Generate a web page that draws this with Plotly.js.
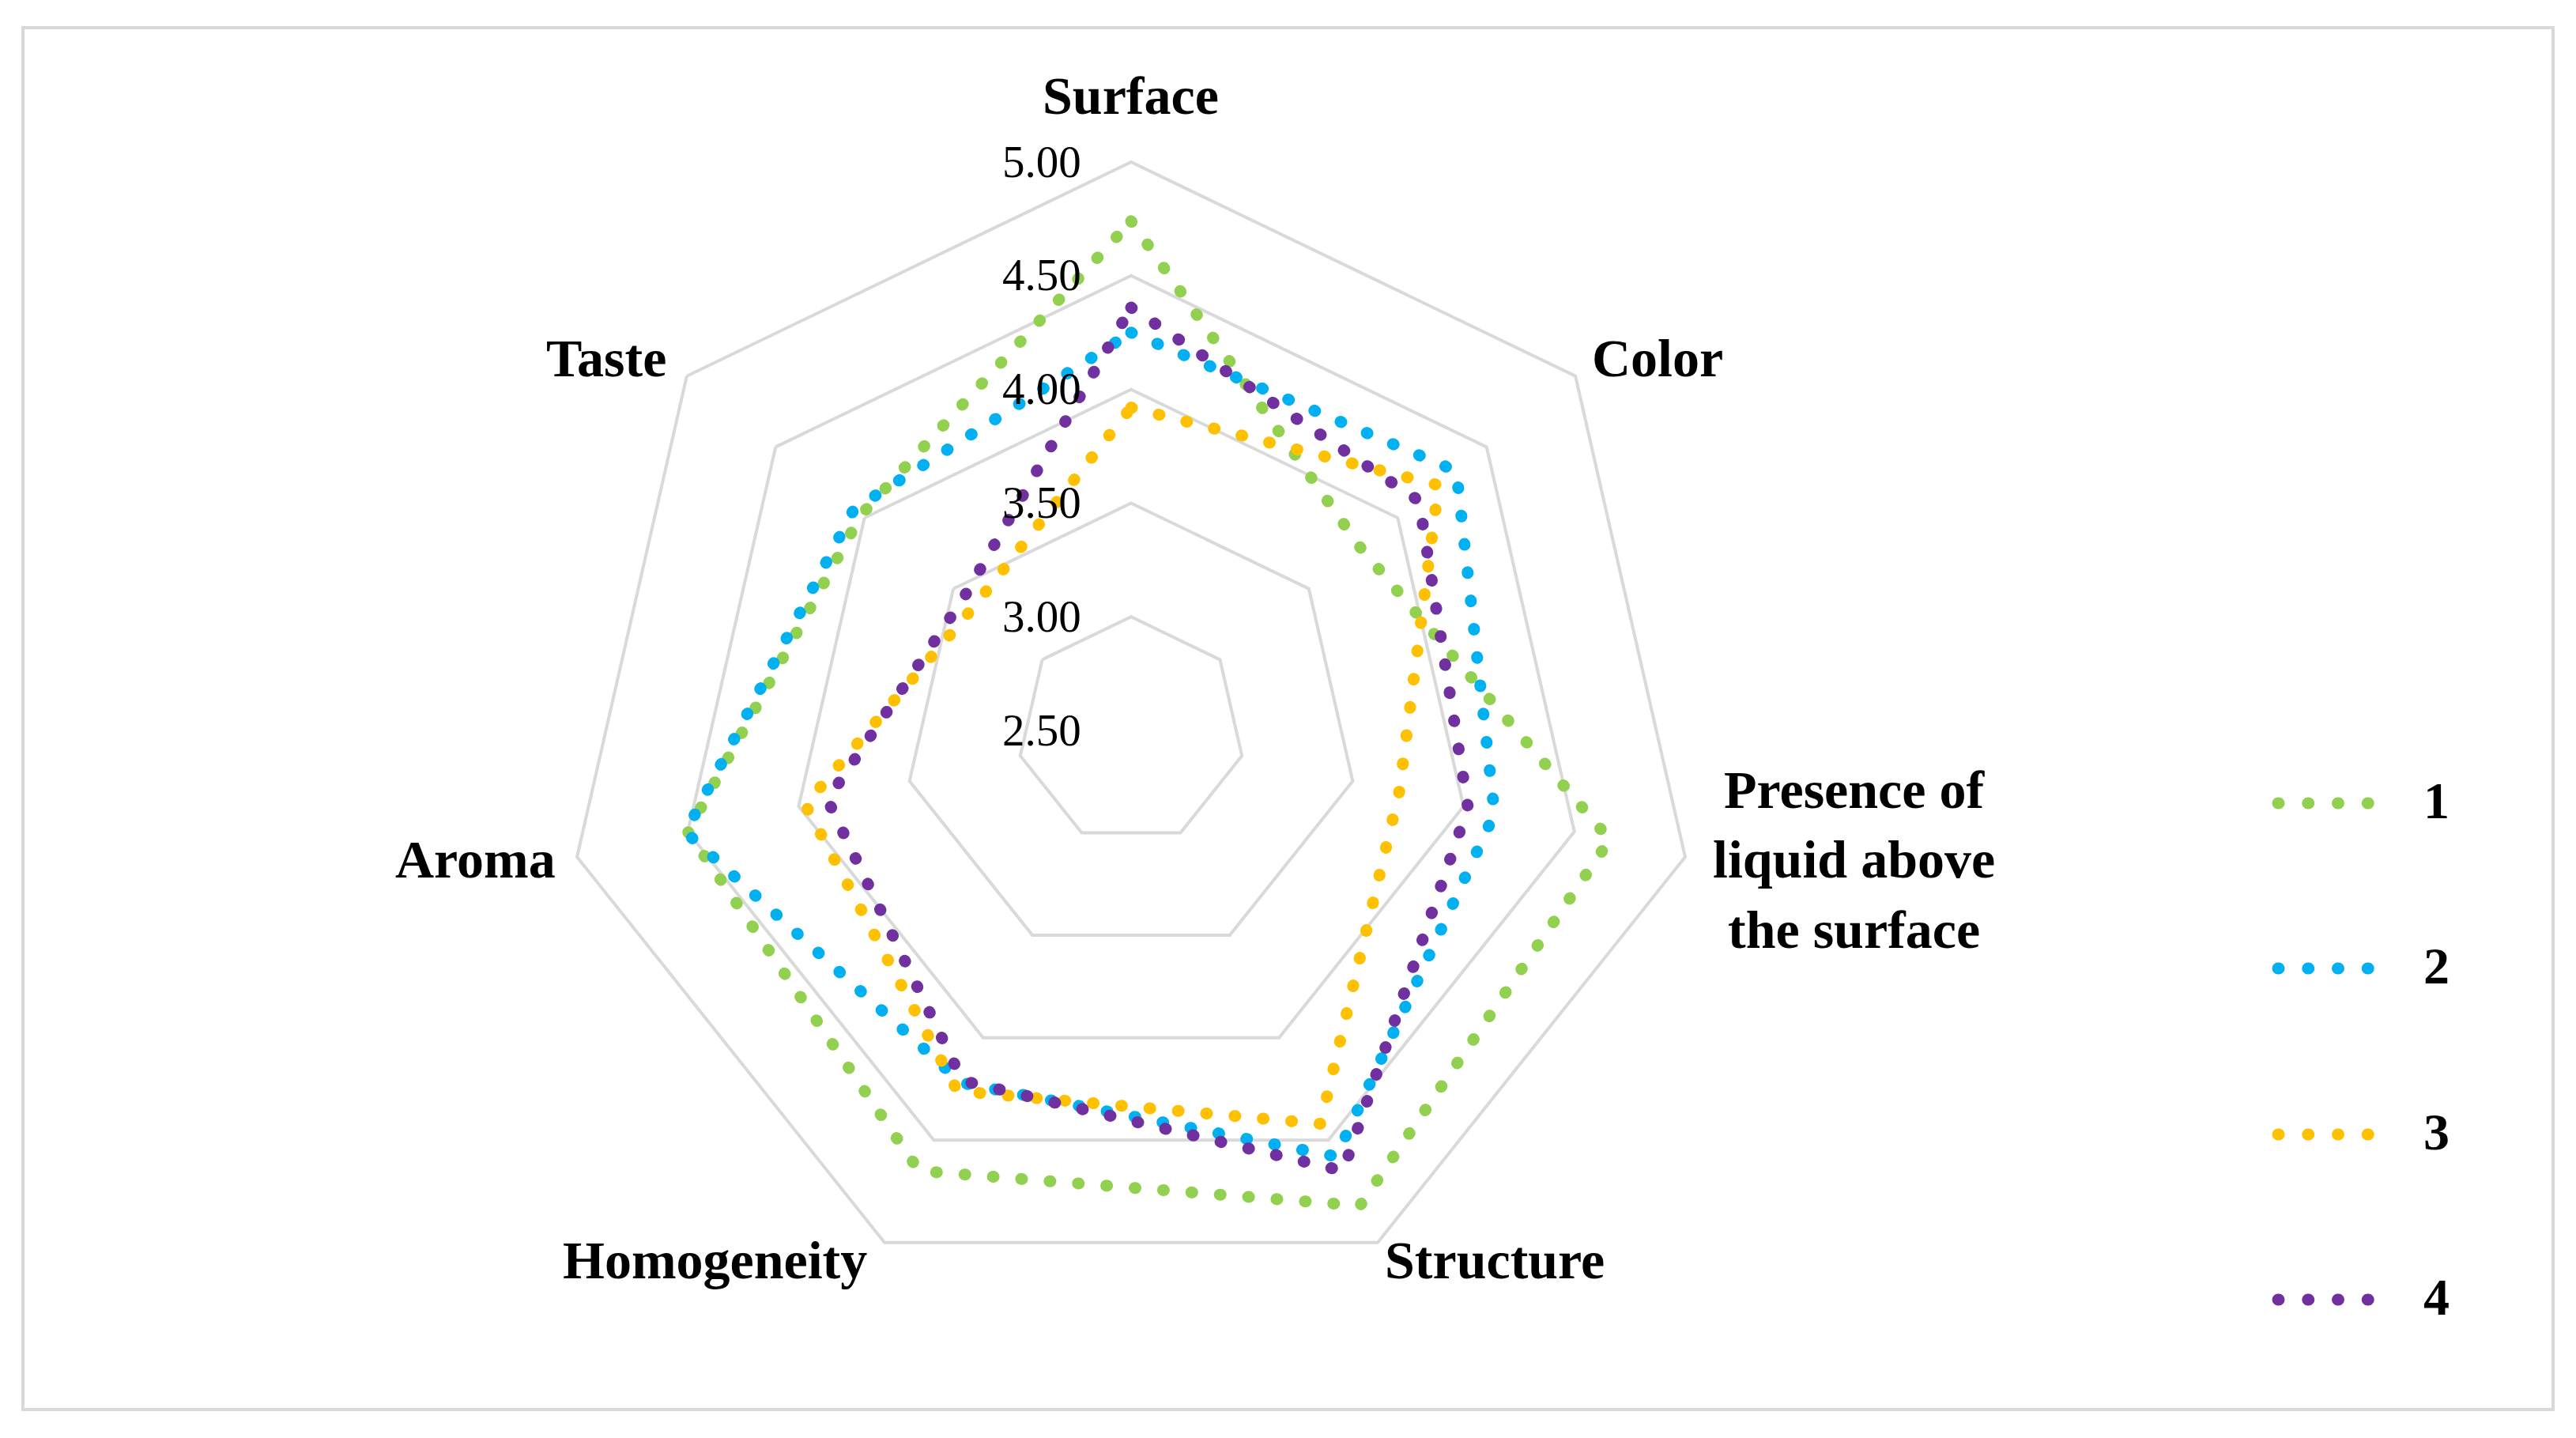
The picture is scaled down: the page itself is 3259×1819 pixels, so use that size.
<!DOCTYPE html>
<html>
<head>
<meta charset="utf-8">
<script src="https://cdn.plot.ly/plotly-3.0.1.min.js"></script>
<style>
  html, body { margin: 0; padding: 0; background: #ffffff; }
  #chart { width: 3259px; height: 1819px; }
  .js-line, .shapelayer path { stroke-linecap: round !important; }
</style>
</head>
<body>
<div id="chart"></div>
<script>
// ---- data ----
const categories = ['Surface', 'Color', 'Presence of liquid above the surface', 'Structure', 'Homogeneity', 'Aroma', 'Taste'];
const categoryLabels = ['Surface', 'Color', 'Presence of<br>liquid above<br>the surface', 'Structure', 'Homogeneity', 'Aroma', 'Taste'];
const seriesNames = ['1', '2', '3', '4'];
const series1 = [4.74, 3.79, 4.66, 4.82, 4.65, 4.50, 4.02];
const series2 = [4.25, 4.33, 4.14, 4.58, 4.22, 4.51, 4.06];
const series3 = [3.92, 4.23, 3.71, 4.42, 4.26, 3.97, 3.38];
const series4 = [4.36, 4.12, 4.02, 4.65, 4.21, 3.87, 3.44];
const radialTicks = [2.5, 3.0, 3.5, 4.0, 4.5, 5.0];

const colors = ['#92D050', '#00B0F0', '#FFC000', '#7030A0'];
const allSeries = [series1, series2, series3, series4];

const W = 3259, H = 1819;
const px = x => x / W;
const py = y => 1 - y / H;

const traces = allSeries.map((vals, i) => ({
  type: 'scatterpolar',
  mode: 'lines',
  name: seriesNames[i],
  r: vals.concat([vals[0]]),
  theta: categories.concat([categories[0]]),
  line: { color: colors[i], width: 15, dash: '1px,35px' },
  hoverinfo: 'skip',
  showlegend: false
}));

const labelFont = { family: 'Liberation Serif, serif', size: 68, color: '#000000', weight: 'bold' };

// category label placement (layout positions, in px of the page)
const labelPos = [
  { x: 1430, y: 121 },
  { x: 2097, y: 453 },
  { x: 2345, y: 1087 },
  { x: 1891, y: 1594 },
  { x: 904, y: 1594 },
  { x: 601, y: 1087 },
  { x: 767, y: 453 }
];

const shapes = [{
  type: 'rect', xref: 'paper', yref: 'paper',
  x0: px(29), x1: px(3230), y0: py(35), y1: py(1783),
  line: { color: '#d9d9d9', width: 4 }, fillcolor: 'rgba(0,0,0,0)'
}];
const annotations = categoryLabels.map((t, i) => ({
  xref: 'paper', yref: 'paper', x: px(labelPos[i].x), y: py(labelPos[i].y),
  xanchor: 'center', yanchor: 'middle', align: 'center', showarrow: false,
  text: '<b>' + t + '</b>', font: labelFont
}));

// custom legend (long dotted samples like the original)
const legendY = [1016, 1225, 1435, 1644];
seriesNames.forEach((n, i) => {
  shapes.push({
    type: 'line', xref: 'paper', yref: 'paper',
    x0: px(2882), x1: px(3033), y0: py(legendY[i]), y1: py(legendY[i]),
    line: { color: colors[i], width: 15, dash: '1px,36.75px' }
  });
  annotations.push({
    xref: 'paper', yref: 'paper', x: px(3064), y: py(legendY[i] - 4),
    xanchor: 'left', yanchor: 'middle', showarrow: false,
    text: '<b>' + n + '</b>',
    font: { family: 'Liberation Serif, serif', size: 66, color: '#000000' }
  });
});

// trailing spaces keep the tick text a little further left of the axis
const pad = '\u00a0\u00a0\u00a0\u2009';

const layout = {
  width: W, height: H,
  margin: { l: 0, r: 0, t: 0, b: 0 },
  paper_bgcolor: '#ffffff',
  showlegend: false,
  font: { family: 'Liberation Serif, serif', color: '#000000' },
  polar: {
    domain: { x: [px(712), px(2150)], y: [176 / H, 1614 / H] },
    bgcolor: 'rgba(0,0,0,0)',
    gridshape: 'linear',
    hole: 0,
    angularaxis: {
      type: 'category',
      categoryarray: categories,
      rotation: 90,
      direction: 'clockwise',
      showgrid: false,
      showline: true,
      linecolor: '#d9d9d9',
      linewidth: 4,
      ticks: '',
      showticklabels: false
    },
    radialaxis: {
      range: [2.5, 5],
      tickmode: 'array',
      tickvals: radialTicks,
      ticktext: radialTicks.map(v => v.toFixed(2) + pad),
      angle: 90,
      side: 'counterclockwise',
      showline: false,
      ticks: '',
      showgrid: true,
      gridcolor: '#d9d9d9',
      gridwidth: 4,
      tickangle: 90,
      tickfont: { family: 'Liberation Serif, serif', size: 57, color: '#000000' }
    }
  },
  shapes: shapes,
  annotations: annotations
};

Plotly.newPlot('chart', traces, layout, { staticPlot: true, displayModeBar: false });
</script>
</body>
</html>
